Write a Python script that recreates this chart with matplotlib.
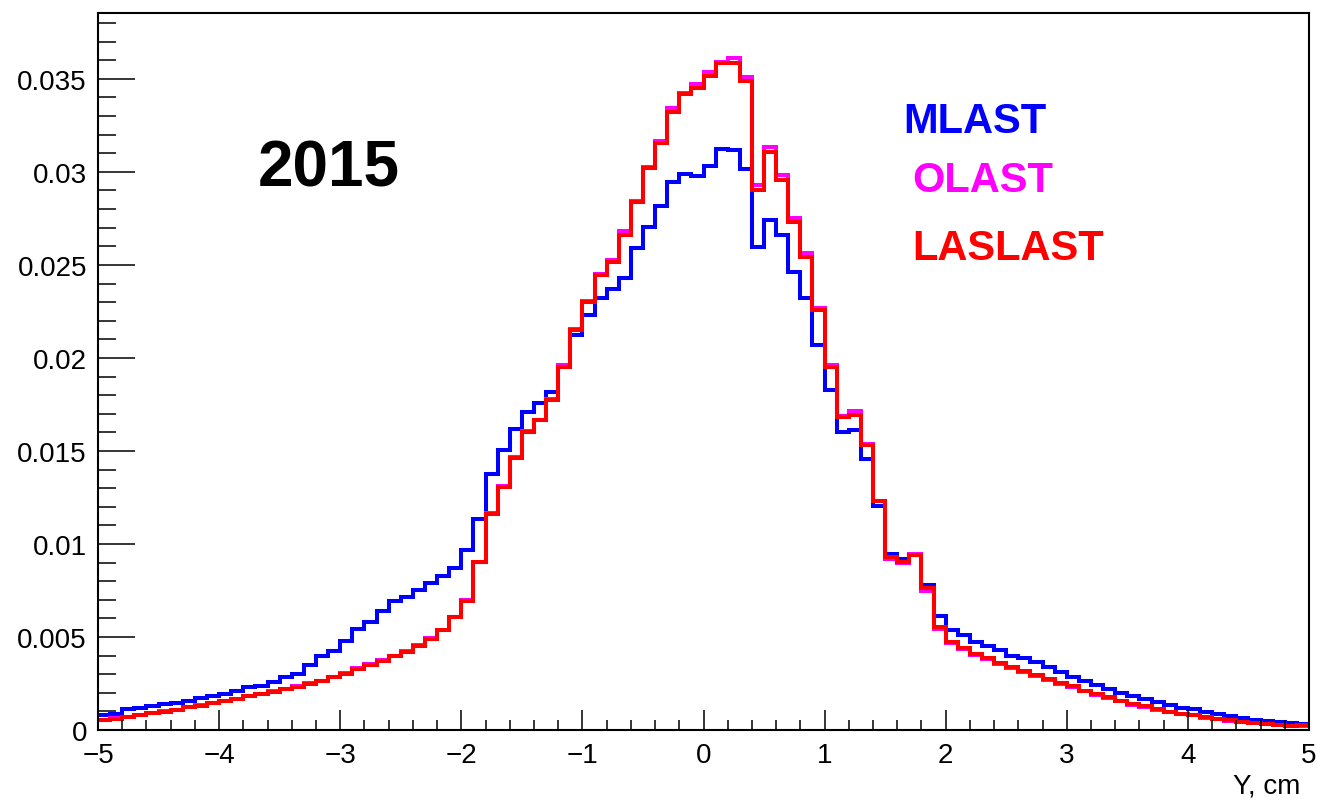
import numpy as np
import matplotlib
matplotlib.use('Agg')
from matplotlib import pyplot as plt
from matplotlib.ticker import MultipleLocator

plt.rcParams['font.family'] = ['Liberation Sans', 'DejaVu Sans']

# histogram: 100 bins from -5 to 5 cm
bin_edges = np.linspace(-5, 5, 101)

mlast = [0.00083, 0.00085, 0.00113, 0.00118, 0.00131, 0.00138, 0.00147, 0.00158, 0.00170, 0.00185,
         0.00192, 0.00208, 0.00232, 0.00235, 0.00257, 0.00284, 0.00302, 0.00350, 0.00397, 0.00427,
         0.00479, 0.00544, 0.00580, 0.00639, 0.00696, 0.00714, 0.00753, 0.00791, 0.00830, 0.00872,
         0.00970, 0.01136, 0.01374, 0.01503, 0.01616, 0.01710, 0.01755, 0.01819, 0.01950, 0.02122,
         0.02230, 0.02323, 0.02373, 0.02427, 0.02589, 0.02705, 0.02817, 0.02948, 0.02987, 0.02978,
         0.03034, 0.03122, 0.03116, 0.03016, 0.02598, 0.02741, 0.02660, 0.02463, 0.02320, 0.02072,
         0.01826, 0.01602, 0.01615, 0.01455, 0.01204, 0.00947, 0.00920, 0.00942, 0.00777, 0.00612,
         0.00537, 0.00511, 0.00472, 0.00454, 0.00432, 0.00397, 0.00386, 0.00364, 0.00341, 0.00314,
         0.00284, 0.00265, 0.00242, 0.00221, 0.00197, 0.00181, 0.00167, 0.00149, 0.00135, 0.00120,
         0.00113, 0.00095, 0.00086, 0.00074, 0.00065, 0.00056, 0.00050, 0.00041, 0.00038, 0.00032]

olast = [0.00056, 0.00063, 0.00070, 0.00083, 0.00092, 0.00101, 0.00110, 0.00124, 0.00133, 0.00146,
         0.00156, 0.00169, 0.00183, 0.00196, 0.00208, 0.00223, 0.00235, 0.00250, 0.00266, 0.00287,
         0.00304, 0.00331, 0.00353, 0.00376, 0.00400, 0.00424, 0.00457, 0.00493, 0.00538, 0.00609,
         0.00699, 0.00905, 0.01166, 0.01309, 0.01467, 0.01605, 0.01668, 0.01779, 0.01960, 0.02155,
         0.02305, 0.02452, 0.02525, 0.02680, 0.02845, 0.03025, 0.03165, 0.03345, 0.03425, 0.03470,
         0.03535, 0.03590, 0.03610, 0.03510, 0.02930, 0.03135, 0.02985, 0.02752, 0.02565, 0.02268,
         0.01960, 0.01690, 0.01712, 0.01535, 0.01232, 0.00920, 0.00898, 0.00945, 0.00745, 0.00545,
         0.00468, 0.00436, 0.00403, 0.00380, 0.00355, 0.00331, 0.00313, 0.00290, 0.00268, 0.00248,
         0.00230, 0.00208, 0.00190, 0.00172, 0.00155, 0.00137, 0.00124, 0.00110, 0.00097, 0.00084,
         0.00079, 0.00066, 0.00057, 0.00050, 0.00043, 0.00036, 0.00031, 0.00026, 0.00022, 0.00024]

laslast = [0.00054, 0.00061, 0.00068, 0.00081, 0.00090, 0.00099, 0.00108, 0.00122, 0.00131, 0.00144,
           0.00154, 0.00167, 0.00181, 0.00194, 0.00206, 0.00221, 0.00233, 0.00248, 0.00264, 0.00284,
           0.00301, 0.00328, 0.00350, 0.00373, 0.00397, 0.00421, 0.00454, 0.00490, 0.00535, 0.00606,
           0.00696, 0.00902, 0.01163, 0.01306, 0.01464, 0.01602, 0.01665, 0.01776, 0.01952, 0.02149,
           0.02298, 0.02445, 0.02517, 0.02660, 0.02840, 0.03019, 0.03154, 0.03324, 0.03419, 0.03450,
           0.03513, 0.03584, 0.03584, 0.03489, 0.02903, 0.03109, 0.02956, 0.02732, 0.02544, 0.02255,
           0.01950, 0.01683, 0.01692, 0.01530, 0.01229, 0.00929, 0.00902, 0.00942, 0.00763, 0.00553,
           0.00474, 0.00442, 0.00409, 0.00386, 0.00361, 0.00337, 0.00319, 0.00296, 0.00274, 0.00253,
           0.00235, 0.00212, 0.00194, 0.00176, 0.00158, 0.00140, 0.00127, 0.00113, 0.00099, 0.00086,
           0.00081, 0.00068, 0.00059, 0.00052, 0.00045, 0.00038, 0.00032, 0.00027, 0.00023, 0.00025]

series_names = ['MLAST', 'OLAST', 'LASLAST']
series_colors = ['#0000ff', '#ff00ff', '#ff0000']
x_ticks = np.arange(-5, 6, 1)
y_ticks = [0, 0.005, 0.01, 0.015, 0.02, 0.025, 0.03, 0.035]
y_tick_labels = ['0', '0.005', '0.01', '0.015', '0.02', '0.025', '0.03', '0.035']

fig = plt.figure(figsize=(13.17, 8.04), dpi=100)
ax = fig.add_axes([98/1317, 73/804, 1211/1317, 717/804])

for vals, c in zip([mlast, olast, laslast], series_colors):
    ax.stairs(vals, bin_edges, color=c, linewidth=2.9, baseline=None)

ax.set_xlim(-5, 5)
ax.set_ylim(0, 0.03854)
ax.set_xticks(x_ticks)
ax.xaxis.set_minor_locator(MultipleLocator(0.2))
ax.set_yticks(y_ticks)
ax.set_yticklabels(y_tick_labels)
ax.yaxis.set_minor_locator(MultipleLocator(0.001))

ax.tick_params(axis='both', which='both', direction='in', width=1.1, labelsize=20)
ax.tick_params(axis='y', which='major', length=26.5, pad=8)
ax.tick_params(axis='y', which='minor', length=13)
ax.tick_params(axis='x', which='major', length=14.5, pad=9)
ax.tick_params(axis='x', which='minor', length=7.5)
for s in ax.spines.values():
    s.set_linewidth(1.5)

fig.text(1300/1317, 10/804, 'Y, cm', ha='right', va='baseline', fontsize=20)

ax.text(0.132, 0.759, '2015', transform=ax.transAxes, fontsize=46, fontweight='bold', color='black')
legend_pos = [(0.665, 0.834), (0.672, 0.752), (0.672, 0.657)]
for name, c, (tx, ty) in zip(series_names, series_colors, legend_pos):
    ax.text(tx, ty, name, transform=ax.transAxes, fontsize=30, fontweight='bold', color=c)

plt.savefig('out.png', dpi=100)
